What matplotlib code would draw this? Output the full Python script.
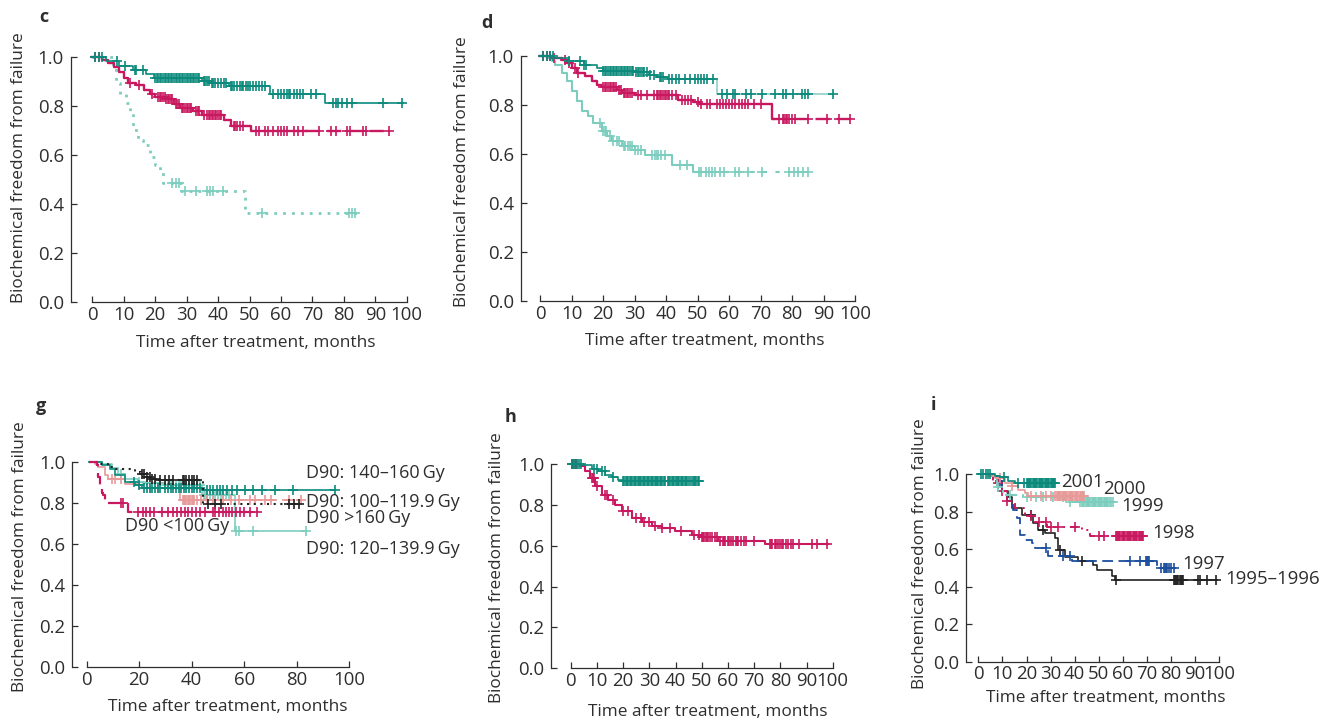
import numpy as np
import matplotlib
matplotlib.use("Agg")
import matplotlib.pyplot as plt

plt.rcParams['font.family'] = ['Open Sans', 'DejaVu Sans']

# colours
DKTEAL = '#0b8a7b'
MAGENTA = '#c9185f'
LTTEAL = '#7dcdbf'
PINK = '#e89a98'
BLACK = '#222222'
BLUE = '#1b4f9e'
TXT = '#2e2e2e'

# ---------------- data ----------------
# panel c
c_dk_t = [0, 4.5, 8.5, 13, 17, 19.5, 35, 37.5, 43.5, 56.5, 74, 98.8]
c_dk_s = [1.0, 0.985, 0.965, 0.948, 0.93, 0.914, 0.905, 0.896, 0.883, 0.85, 0.815, 0.815]
c_dk_cens = [1, 2, 3, 8, 10.5, 13.5, 14, 16, 20, 20.5, 21, 21.5, 22, 22.5, 23, 23.5, 24, 24.5, 25,
             25.5, 26, 26.5, 27, 27.5, 28, 28.5, 29, 29.5, 30, 30.5, 31, 31.5, 32, 32.5, 33, 33.5,
             34, 35.5, 36, 36.5, 37, 38, 38.5, 39, 40, 41, 42, 42.5, 44, 44.5, 45, 46, 47, 47.5,
             48, 49, 49.5, 50, 51, 52, 53, 54, 55, 57.5, 59, 60, 61, 62, 62.5, 63, 64, 65, 66, 67,
             69.5, 71, 76.5, 77.5, 78, 79.5, 81, 82.5, 92.5, 98.5]
c_mg_t = [0, 3, 5, 7, 8.5, 10, 11.5, 14, 16.5, 18.5, 20, 23.5, 26, 28, 32, 35, 42, 44, 50.5, 94.5]
c_mg_s = [1.0, 0.99, 0.975, 0.96, 0.94, 0.915, 0.895, 0.885, 0.865, 0.85, 0.84, 0.828, 0.81,
          0.795, 0.78, 0.765, 0.745, 0.72, 0.70, 0.70]
c_mg_cens = [1, 2, 12, 15, 19, 21, 21.5, 22, 22.5, 23, 23.5, 24, 24.5, 25, 25.5, 26.5, 27, 27.5,
             28.5, 29, 29.5, 30, 30.5, 31, 31.5, 33, 33.5, 34, 35.5, 36.5, 37, 37.5, 38, 38.5, 39,
             39.5, 40, 40.5, 41, 45, 45.5, 46, 47, 48, 52, 53, 55, 56, 57.5, 59, 60, 61, 62, 64,
             65.5, 67, 72, 76, 77.5, 81, 82, 86, 87, 94.5]
c_lt_t = [0, 6.5, 7.6, 8.7, 10.8, 11.9, 12.9, 14.5, 16.1, 18.2, 19.8, 21.4, 22.5, 28.3, 48.6, 85]
c_lt_s = [1.0, 0.96, 0.894, 0.852, 0.812, 0.778, 0.703, 0.662, 0.642, 0.594, 0.56, 0.533, 0.486,
          0.455, 0.363, 0.363]
c_lt_cens = [25.5, 26.5, 27.5, 29.5, 33, 36.5, 37.5, 38.5, 41.5, 54, 81.5, 82.5, 83.5]

# panel d
d_dk_t = [0, 4.5, 9, 14, 18, 20, 30, 34.5, 37, 40.5, 56, 93.1]
d_dk_s = [1.0, 0.99, 0.978, 0.965, 0.951, 0.94, 0.935, 0.924, 0.913, 0.905, 0.845, 0.845]
d_dk_cens = [1, 2, 3, 4, 9, 12.5, 14, 14.5, 20, 20.5, 21, 21.5, 22, 22.5, 23, 23.5, 24, 24.5, 25,
             25.5, 26, 26.5, 27, 27.5, 28, 28.5, 29, 29.5, 30.5, 31, 31.5, 32, 32.5, 33, 34, 35,
             36, 38, 38.5, 39, 41, 42, 43, 44, 46, 47.5, 49, 50, 51, 52, 53, 55, 57.6, 59.2, 61.3,
             61.8, 65.5, 67.1, 70.3, 74.5, 77.2, 78.2, 80.3, 83, 84, 85.1, 93]
d_mg_t = [0, 4, 6.8, 8.4, 10, 11.6, 14.2, 16.3, 17.9, 19.5, 24.3, 25.9, 30, 43.9, 48.6, 50.8,
          73.7, 98.9]
d_mg_s = [1.0, 0.993, 0.985, 0.971, 0.951, 0.93, 0.917, 0.896, 0.883, 0.872, 0.862, 0.849,
          0.839, 0.822, 0.812, 0.803, 0.741, 0.741]
d_mg_cens = [1, 2, 3, 4.5, 8, 9, 11, 12, 20, 20.5, 21, 21.5, 22, 22.5, 23, 23.5, 24, 25, 25.5,
             26.5, 27, 27.5, 28, 28.5, 29, 31, 32, 34, 36, 37, 37.5, 38, 38.5, 39, 39.5, 40,
             40.5, 41, 42, 43, 45, 46, 47, 48, 50, 51, 53, 54, 56, 57, 58, 59, 60, 61, 62, 63,
             64, 65, 66, 68, 70, 76, 77, 77.5, 78, 78.5, 79, 80, 81, 85, 91, 95, 98.5]
d_lt_t = [0, 2.5, 3.6, 4.7, 6.8, 8.4, 10, 11.6, 13.2, 15.3, 16.9, 19.5, 21.1, 22.7, 25.9, 30,
          33.3, 42, 48.6, 85.7]
d_lt_s = [1.0, 0.99, 0.98, 0.965, 0.93, 0.896, 0.856, 0.815, 0.774, 0.753, 0.726, 0.692, 0.672,
          0.651, 0.631, 0.617, 0.597, 0.555, 0.526, 0.526]
d_lt_cens = [19, 20, 20.5, 21, 22, 23, 24.5, 25, 26.5, 27, 28, 28.5, 29, 30, 31, 32, 35.5, 36.5,
             37, 37.5, 38.5, 39.5, 44.5, 46.5, 50.5, 51, 52.5, 53.5, 54.5, 55.5, 57, 58.5, 62,
             63, 66, 70.5, 79, 80.5, 82, 83.5, 85]

# panel g (D90 groups)
g_mg_t = [1, 2, 3.8, 4.4, 5.1, 5.7, 6.3, 7, 15.8, 65.3]
g_mg_s = [1.0, 1.0, 0.987, 0.93, 0.873, 0.85, 0.84, 0.80, 0.758, 0.758]
g_mg_cens = [13, 14, 19.5, 21.5, 22.5, 24, 25.5, 28.5, 31, 33, 34.5, 36, 37.5, 38.5, 40, 41.5,
             43, 45, 48, 49, 50.5, 52, 53, 54, 55.5, 57, 58.5, 60, 62, 65]
g_bk_t = [1, 5, 8, 10, 18.4, 20.5, 22.5, 24.5, 26.6, 44.4, 80.6]
g_bk_s = [1.0, 0.99, 0.978, 0.967, 0.955, 0.945, 0.93, 0.92, 0.912, 0.795, 0.795]
g_bk_cens = [21, 22, 23, 24, 25, 26, 28, 30, 31.5, 33, 36.5, 37, 38, 39, 40, 41, 42, 46.2, 48.7,
             51.2, 77.2, 79.1, 81]
g_dk_t = [1, 6, 8.7, 10.8, 14.6, 18.4, 20.9, 43.8, 94.5]
g_dk_s = [1.0, 0.985, 0.967, 0.94, 0.905, 0.89, 0.875, 0.865, 0.865]
g_dk_cens = [18, 20, 22, 23, 24, 25, 26, 27, 28, 30, 31, 32, 33, 34, 35, 36, 37, 38, 39, 40, 41,
             42, 43, 46, 47, 48, 49.5, 50.7, 52, 53.3, 55.2, 57.1, 60.3, 63.4, 66.6, 71.7, 78.7,
             94.5]
g_pk_t = [1, 3, 4.4, 7, 8.2, 14.6, 20, 35.5, 81.8]
g_pk_s = [1.0, 0.99, 0.979, 0.938, 0.918, 0.892, 0.873, 0.815, 0.815]
g_pk_cens = [9.5, 10.8, 13, 24, 27, 36.5, 37, 37.5, 38, 38.5, 39, 39.5, 40, 40.5, 41, 42, 43.5,
             46, 48, 52, 55, 58, 62, 64, 68, 70, 77, 81.5]
g_lt_t = [1, 6, 9.5, 12.1, 14.6, 19.7, 22.2, 30, 43.8, 56.5, 83.7]
g_lt_s = [1.0, 0.99, 0.97, 0.945, 0.92, 0.905, 0.897, 0.89, 0.84, 0.665, 0.665]
g_lt_cens = [13, 20, 23, 26, 28, 30, 31, 32, 33, 34, 35, 36, 37, 38, 39, 40, 41, 42, 43, 44.5, 45,
             46, 47, 48, 49, 50, 51, 52, 53, 54, 57, 58, 63.4, 83.7]
g_labels = ['D90: 140\u2013160\u2009Gy', 'D90: 100\u2013119.9\u2009Gy', 'D90 >160\u2009Gy',
            'D90: 120\u2013139.9\u2009Gy', 'D90 <100\u2009Gy']

# panel h
h_dk_t = [0, 4.2, 8, 10.5, 13.1, 15.6, 18.2, 19.5, 49.6]
h_dk_s = [1.0, 0.997, 0.977, 0.964, 0.948, 0.936, 0.923, 0.917, 0.917]
h_dk_cens = [0.5, 1, 1.5, 2, 3, 4, 9, 10, 12, 13, 16, 20, 20.5, 21, 21.5, 22, 22.5, 23, 23.5, 24,
             24.5, 25, 25.5, 26, 26.5, 27, 27.5, 28, 28.5, 29, 29.5, 30, 30.5, 31, 31.5, 32, 32.5,
             33, 33.5, 34, 34.5, 35, 35.5, 36, 37, 37.5, 38, 38.5, 39, 39.5, 40, 40.5, 41, 41.5,
             42, 42.5, 43, 43.5, 44, 44.5, 45, 46, 46.5, 47, 47.5, 48, 48.5, 49]
h_mg_t = [0, 3.5, 5.5, 7.4, 9.3, 11.8, 14.4, 16.9, 19.5, 23.3, 27.1, 30.9, 34.7, 39.8, 46.2, 50,
          56.3, 74.2, 98.3]
h_mg_s = [1.0, 0.99, 0.964, 0.931, 0.891, 0.85, 0.825, 0.801, 0.768, 0.736, 0.714, 0.698, 0.687,
          0.673, 0.653, 0.642, 0.625, 0.606, 0.606]
h_mg_cens = [0.5, 1, 1.5, 2, 2.5, 8, 8.5, 9, 10, 13, 14, 16, 20, 22, 25, 27, 28, 30, 32, 35, 38,
             42, 47, 49, 50, 50.5, 51, 51.5, 52, 52.5, 53, 54, 55, 56, 57, 58, 58.5, 59, 60, 60.5,
             61, 62, 63, 63.5, 64, 65, 66, 67, 70, 76, 76.5, 77, 78, 78.5, 79, 80, 80.5, 81, 82,
             83, 84, 85, 87, 92, 94, 98]

# panel i (year of treatment)
i_01_t = [0, 5, 7, 9, 12.5, 15.2, 32.5]
i_01_s = [1.0, 0.998, 0.99, 0.982, 0.964, 0.954, 0.954]
i_01_cens = [1, 2, 3, 4, 5, 10.8, 16.6, 19, 20, 20.5, 21, 21.5, 22, 22.5, 23, 23.5, 24, 24.5, 25,
             25.5, 26, 26.5, 27, 27.5, 28, 28.5, 29, 29.5, 30, 30.5, 31, 31.5, 32]
i_00_t = [0, 4, 7, 11.1, 13.8, 16.6, 19.4, 20.8, 44.7]
i_00_s = [1.0, 0.99, 0.979, 0.952, 0.934, 0.917, 0.899, 0.883, 0.883]
i_00_cens = [9, 14, 22, 26, 28, 30, 32, 32.5, 33, 33.5, 34, 34.5, 35, 35.5, 36, 36.5, 37, 37.5,
             38, 38.5, 39, 39.5, 40, 40.5, 41, 41.5, 42, 42.5, 43, 43.5, 44]
i_99_t = [0, 5, 7.6, 10.4, 18.7, 38, 56.7]
i_99_s = [1.0, 0.99, 0.933, 0.888, 0.876, 0.853, 0.853]
i_99_cens = [8, 13, 20, 24, 27, 31, 35, 38, 42, 43, 43.5, 44, 44.5, 45, 45.5, 46, 46.5, 47, 47.5,
             48, 48.5, 49, 49.5, 50, 50.5, 51, 51.5, 52, 52.5, 53, 53.5, 54, 54.5, 55, 56]
i_98_t = [0, 4.2, 6.2, 8.3, 11.8, 15.2, 19.4, 23.5, 28.4, 42.9, 46.3, 69.2]
i_98_s = [1.0, 0.996, 0.952, 0.908, 0.855, 0.819, 0.775, 0.745, 0.72, 0.70, 0.67, 0.67]
i_98_cens = [8, 10, 12, 22, 25, 28, 30, 33, 40, 50, 52, 57, 57.5, 58, 58.5, 59, 59.5, 60, 60.5,
             61, 61.5, 62, 62.5, 63, 63.5, 64, 64.5, 65, 65.5, 66, 66.5, 67, 67.5, 68, 68.5]
i_97_t = [0, 5, 7.8, 9.7, 11.8, 14.5, 15.9, 17.3, 19.4, 22.1, 23.5, 29, 38.7, 74, 80.9]
i_97_s = [1.0, 0.99, 0.961, 0.908, 0.855, 0.81, 0.766, 0.677, 0.651, 0.633, 0.606, 0.566, 0.539,
          0.50, 0.50]
i_97_cens = [9, 28, 35, 38, 63, 67, 69.5, 70, 70.5, 71, 76, 77, 77.5, 78, 78.5, 79, 80, 81]
i_95_t = [0, 5, 8.3, 9.7, 12.5, 13.8, 18, 22.8, 24.9, 27.6, 31.8, 33.2, 36, 41.5, 47.6, 49.1,
          55.3, 56.7, 98.9]
i_95_s = [1.0, 0.99, 0.961, 0.908, 0.88, 0.819, 0.784, 0.74, 0.704, 0.686, 0.66, 0.597, 0.561,
          0.537, 0.516, 0.489, 0.46, 0.436, 0.436]
i_95_cens = [22, 27, 34, 43, 57, 81, 81.5, 82, 82.5, 83, 83.5, 84, 84.5, 85, 91, 92, 95, 98.5]
i_labels = ['2001', '2000', '1999', '1998', '1997', '1995\u20131996']

x_label = 'Time after treatment, months'
y_label = 'Biochemical freedom from failure'

# ---------------- drawing ----------------
W, H = 1328, 721
fig = plt.figure(figsize=(W / 100, H / 100), dpi=100)


def make_ax(x_spine, x0, x100, y0, y1, xstep):
    # place axes so that data 0..100 / 0..1 sit at the given pixel positions
    ux = (x100 - x0) / 100.0
    uy = y0 - y1
    xmax, ymax = 101.5, 1.03
    xlo = -(x0 - x_spine) / ux
    right = x0 + xmax * ux
    top = y0 - ymax * uy
    ax = fig.add_axes([x_spine / W, 1 - y0 / H, (right - x_spine) / W, (y0 - top) / H])
    ax.set_xlim(xlo, xmax)
    ax.set_ylim(0, ymax)
    for sp in ['top', 'right']:
        ax.spines[sp].set_visible(False)
    ax.spines['left'].set_bounds(0, 1)
    ax.spines['bottom'].set_bounds(0, 100)
    for sp in ['left', 'bottom']:
        ax.spines[sp].set_color(TXT)
        ax.spines[sp].set_linewidth(0.9)
    ax.set_xticks(np.arange(0, 101, xstep))
    ax.set_yticks(np.arange(0, 1.01, 0.2))
    ax.set_yticklabels(['%.1f' % v for v in np.arange(0, 1.01, 0.2)])
    ax.tick_params(direction='in', length=4, width=0.9, colors=TXT, labelsize=13.4)
    ax.tick_params(axis='y', pad=5)
    ax.tick_params(axis='x', pad=3)
    return ax


def km(ax, t, s, cens, color, ls='-', split=None, ls2=None, color2=None, lw=1.2):
    t = np.asarray(t, float)
    s = np.asarray(s, float)
    if split is None:
        ax.step(t, s, where='post', color=color, ls=ls, lw=lw)
    else:
        k = np.searchsorted(t, split)
        ax.step(np.r_[t[:k], split], np.r_[s[:k], s[k - 1]], where='post',
                color=color, ls=ls, lw=lw)
        ax.step(np.r_[split, t[k:]], np.r_[s[k - 1], s[k:]], where='post',
                color=color2 or color, ls=ls2 or ls, lw=lw)
    c = np.asarray(cens, float)
    idx = np.searchsorted(t, c, side='right') - 1
    ax.plot(c, s[idx], ls='none', marker='+', ms=7, mew=1.2, color=color)


def labels(px_x, py_x, px_y, py_y, letter, lx, ly):
    fig.text(px_x / W, 1 - py_x / H, x_label, ha='center', va='center',
             fontsize=12.4, color=TXT)
    fig.text(px_y / W, 1 - py_y / H, y_label, ha='center', va='center',
             fontsize=12.4, color=TXT, rotation=90)
    fig.text(lx / W, 1 - ly / H, letter, ha='center', va='center',
             fontsize=13, fontweight='bold', color=TXT)


DOT = (0, (1, 2.2))
DASH = (0, (6, 3))

# c
ax = make_ax(70.7, 92.3, 406.7, 302.3, 57.3, 10)
km(ax, c_lt_t, c_lt_s, c_lt_cens, LTTEAL, ls=DOT, lw=2.0)
km(ax, c_mg_t, c_mg_s, c_mg_cens, MAGENTA, split=68, ls2=DASH, lw=1.7)
km(ax, c_dk_t, c_dk_s, c_dk_cens, DKTEAL)
labels(256, 342.7, 19, 167.5, 'c', 44, 17.5)

# d
ax = make_ax(520.7, 540.3, 855, 300.7, 56, 10)
km(ax, d_lt_t, d_lt_s, d_lt_cens, LTTEAL, split=55, ls2=(0, (2, 4)), lw=1.5)
km(ax, d_mg_t, d_mg_s, d_mg_cens, MAGENTA, split=74, ls2=DASH, lw=1.7)
km(ax, d_dk_t, d_dk_s, d_dk_cens, DKTEAL, split=55.5, color2='#8fd0c4')
labels(705, 340.7, 461.7, 171.5, 'd', 487, 22.5)

# g
ax = make_ax(72, 86.7, 349.3, 667.3, 462.3, 20)
km(ax, g_lt_t, g_lt_s, g_lt_cens, LTTEAL)
km(ax, g_pk_t, g_pk_s, g_pk_cens, PINK, split=40, ls2=DASH)
km(ax, g_dk_t, g_dk_s, g_dk_cens, DKTEAL)
km(ax, g_bk_t, g_bk_s, g_bk_cens, BLACK, ls=DOT, lw=1.5)
km(ax, g_mg_t, g_mg_s, g_mg_cens, MAGENTA, ls=DASH, lw=1.6)
g_pos = [(83.7, 0.946), (83.7, 0.805), (83.7, 0.727), (83.7, 0.576), (14.6, 0.689)]
for lab, (x, y) in zip(g_labels, g_pos):
    ax.text(x, y, lab, ha='left', va='center', fontsize=13, color=TXT)
labels(228, 706.7, 20, 556.7, 'g', 40.5, 406)

# h
ax = make_ax(551, 570.7, 832.7, 668.3, 464, 10)
km(ax, h_mg_t, h_mg_s, h_mg_cens, MAGENTA, lw=1.5)
km(ax, h_dk_t, h_dk_s, h_dk_cens, DKTEAL)
labels(708, 711.7, 496.7, 568, 'h', 511, 417.5)

# i
ax = make_ax(966, 978.3, 1219.3, 662, 474, 10)
km(ax, i_95_t, i_95_s, i_95_cens, BLACK)
km(ax, i_97_t, i_97_s, i_97_cens, BLUE, ls=DASH, lw=1.3)
km(ax, i_98_t, i_98_s, i_98_cens, MAGENTA, ls=(0, (1, 2.5, 1, 2.5, 4, 2.5)), lw=1.4)
km(ax, i_99_t, i_99_s, i_99_cens, LTTEAL, ls=(0, (6, 2.5, 1.5, 2.5)), lw=1.4)
km(ax, i_00_t, i_00_s, i_00_cens, PINK)
km(ax, i_01_t, i_01_s, i_01_cens, DKTEAL)
i_pos = [(34.2, 0.959), (51.7, 0.92), (59.2, 0.831), (72.2, 0.684), (84.6, 0.521), (102.4, 0.441)]
for lab, (x, y) in zip(i_labels, i_pos):
    ax.text(x, y, lab, ha='left', va='center', fontsize=13.4, color=TXT)
ax.tick_params(axis='x', pad=2)
labels(1105.5, 698.3, 920, 553.3, 'i', 933, 405)

fig.savefig('out.png', dpi=100)
